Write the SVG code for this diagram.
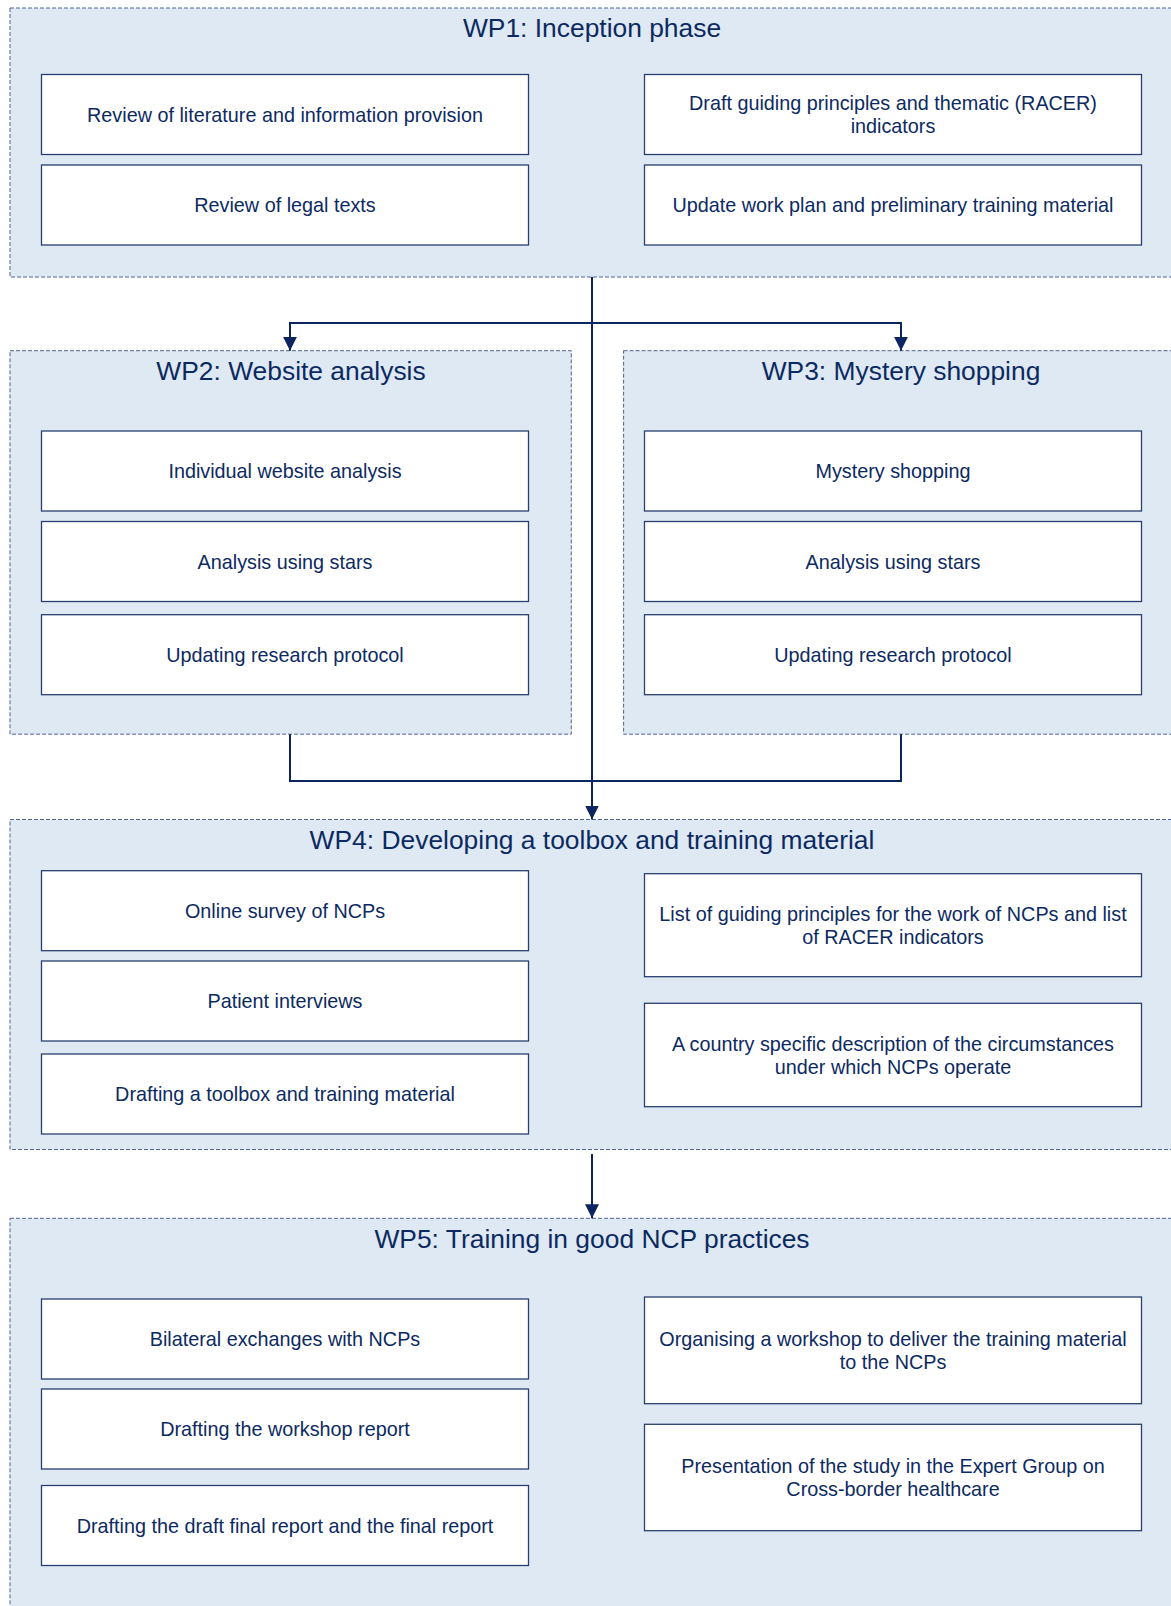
<svg xmlns="http://www.w3.org/2000/svg" width="1171" height="1606" viewBox="0 0 1171 1606">
  <style>
    .wp { fill: #dfe9f3; stroke: #50668f; stroke-width: 1; stroke-dasharray: 4 2; }
    .box { fill: #ffffff; stroke: #2a3f70; stroke-width: 1.3; }
    .title { font-family: "Liberation Sans", Arial, sans-serif; font-size: 26.4px; fill: #0c2a62; text-anchor: middle; }
    .lbl { font-family: "Liberation Sans", Arial, sans-serif; font-size: 19.8px; fill: #0c2a62; text-anchor: middle; }
    .conn { fill: none; stroke: #0c2461; stroke-width: 2; }
  </style>
  <defs>
    <marker id="ah" markerUnits="userSpaceOnUse" markerWidth="14" markerHeight="14" refX="14" refY="7" orient="auto">
      <path d="M0,0 L14,7 L0,14 z" fill="#0c2461"/>
    </marker>
  </defs>

  <rect width="1171" height="1606" fill="#ffffff"/>

  <!-- WP1: Inception phase -->
  <g id="wp1">
    <rect class="wp" x="10" y="8" width="1170" height="269"/>
    <text class="title" x="592" y="37">WP1: Inception phase</text>
    <g id="wp1-lit">
      <rect class="box" x="41.5" y="74.5" width="487" height="80"/>
      <text class="lbl" x="285" y="121.5">Review of literature and information provision</text>
    </g>
    <g id="wp1-legal">
      <rect class="box" x="41.5" y="165" width="487" height="80"/>
      <text class="lbl" x="285" y="212">Review of legal texts</text>
    </g>
    <g id="wp1-principles">
      <rect class="box" x="644.5" y="74.5" width="497" height="80"/>
      <text class="lbl" x="893" y="110">Draft guiding principles and thematic (RACER)</text>
      <text class="lbl" x="893" y="133.3">indicators</text>
    </g>
    <g id="wp1-workplan">
      <rect class="box" x="644.5" y="165" width="497" height="80"/>
      <text class="lbl" x="893" y="212">Update work plan and preliminary training material</text>
    </g>
  </g>

  <!-- WP2: Website analysis -->
  <g id="wp2">
    <rect class="wp" x="10" y="350.7" width="561.3" height="383.5"/>
    <text class="title" x="291" y="380">WP2: Website analysis</text>
    <g id="wp2-individual">
      <rect class="box" x="41.5" y="431" width="487" height="80"/>
      <text class="lbl" x="285" y="478">Individual website analysis</text>
    </g>
    <g id="wp2-stars">
      <rect class="box" x="41.5" y="521.5" width="487" height="80"/>
      <text class="lbl" x="285" y="568.5">Analysis using stars</text>
    </g>
    <g id="wp2-protocol">
      <rect class="box" x="41.5" y="614.7" width="487" height="80"/>
      <text class="lbl" x="285" y="661.7">Updating research protocol</text>
    </g>
  </g>

  <!-- WP3: Mystery shopping -->
  <g id="wp3">
    <rect class="wp" x="623.6" y="350.7" width="560" height="383.5"/>
    <text class="title" x="901" y="380">WP3: Mystery shopping</text>
    <g id="wp3-mystery">
      <rect class="box" x="644.5" y="431" width="497" height="80"/>
      <text class="lbl" x="893" y="478">Mystery shopping</text>
    </g>
    <g id="wp3-stars">
      <rect class="box" x="644.5" y="521.5" width="497" height="80"/>
      <text class="lbl" x="893" y="568.5">Analysis using stars</text>
    </g>
    <g id="wp3-protocol">
      <rect class="box" x="644.5" y="614.7" width="497" height="80"/>
      <text class="lbl" x="893" y="661.7">Updating research protocol</text>
    </g>
  </g>

  <!-- WP4: Developing a toolbox and training material -->
  <g id="wp4">
    <rect class="wp" x="10" y="819.5" width="1170" height="330"/>
    <text class="title" x="592" y="848.5">WP4: Developing a toolbox and training material</text>
    <g id="wp4-survey">
      <rect class="box" x="41.5" y="870.7" width="487" height="80"/>
      <text class="lbl" x="285" y="917.5">Online survey of NCPs</text>
    </g>
    <g id="wp4-interviews">
      <rect class="box" x="41.5" y="961" width="487" height="80"/>
      <text class="lbl" x="285" y="1008">Patient interviews</text>
    </g>
    <g id="wp4-toolbox">
      <rect class="box" x="41.5" y="1054" width="487" height="80"/>
      <text class="lbl" x="285" y="1101">Drafting a toolbox and training material</text>
    </g>
    <g id="wp4-principles">
      <rect class="box" x="644.5" y="873.7" width="497" height="103"/>
      <text class="lbl" x="893" y="920.7">List of guiding principles for the work of NCPs and list</text>
      <text class="lbl" x="893" y="944">of RACER indicators</text>
    </g>
    <g id="wp4-country">
      <rect class="box" x="644.5" y="1003.3" width="497" height="103.4"/>
      <text class="lbl" x="893" y="1050.5">A country specific description of the circumstances</text>
      <text class="lbl" x="893" y="1073.8">under which NCPs operate</text>
    </g>
  </g>

  <!-- WP5: Training in good NCP practices -->
  <g id="wp5">
    <rect class="wp" x="10" y="1218.3" width="1170" height="400"/>
    <text class="title" x="592" y="1248">WP5: Training in good NCP practices</text>
    <g id="wp5-bilateral">
      <rect class="box" x="41.5" y="1299" width="487" height="80"/>
      <text class="lbl" x="285" y="1346">Bilateral exchanges with NCPs</text>
    </g>
    <g id="wp5-workshop-report">
      <rect class="box" x="41.5" y="1389" width="487" height="80"/>
      <text class="lbl" x="285" y="1436">Drafting the workshop report</text>
    </g>
    <g id="wp5-final-report">
      <rect class="box" x="41.5" y="1485.5" width="487" height="80"/>
      <text class="lbl" x="285" y="1532.5">Drafting the draft final report and the final report</text>
    </g>
    <g id="wp5-workshop">
      <rect class="box" x="644.5" y="1297" width="497" height="106.7"/>
      <text class="lbl" x="893" y="1345.8">Organising a workshop to deliver the training material</text>
      <text class="lbl" x="893" y="1369.1">to the NCPs</text>
    </g>
    <g id="wp5-presentation">
      <rect class="box" x="644.5" y="1424.3" width="497" height="106.4"/>
      <text class="lbl" x="893" y="1473">Presentation of the study in the Expert Group on</text>
      <text class="lbl" x="893" y="1496.3">Cross-border healthcare</text>
    </g>
  </g>

  <!-- Connectors -->
  <g id="connectors">
    <!-- WP1 straight down to WP4 -->
    <path class="conn" d="M592,277 V819.5" marker-end="url(#ah)"/>
    <!-- WP1 branch to WP2 and WP3 -->
    <path class="conn" d="M592,323 H290 V350.7" marker-end="url(#ah)"/>
    <path class="conn" d="M592,323 H901 V350.7" marker-end="url(#ah)"/>
    <!-- WP2 and WP3 joining toward WP4 -->
    <path class="conn" d="M290,734.2 V781 H901 V734.2"/>
    <!-- WP4 to WP5 -->
    <path class="conn" d="M592,1154 V1218.3" marker-end="url(#ah)"/>
  </g>
</svg>
